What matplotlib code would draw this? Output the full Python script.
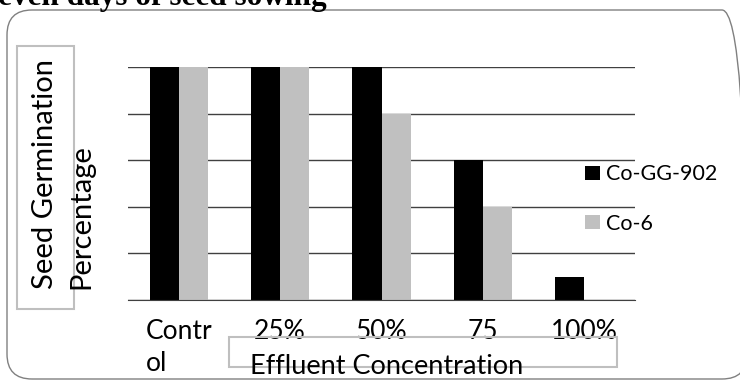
import matplotlib
matplotlib.use("Agg")
import matplotlib.pyplot as plt
from matplotlib.patches import FancyBboxPatch, Rectangle
from matplotlib.transforms import ScaledTranslation
import numpy as np

categories = ["Contr\nol", "25%", "50%", "75", "100%"]
series_names = ["Co-GG-902", "Co-6"]
co_gg_902 = [100, 100, 100, 60, 10]
co_6 = [100, 100, 80, 40, 0]
colors = ["#000000", "#C0C0C0"]

W, H = 740, 382
fig = plt.figure(figsize=(W / 100, H / 100), dpi=100)
FONT = "Lato"

ax = fig.add_axes([128 / W, (H - 300) / H, (635 - 128) / W, (300 - 67) / H])
x = np.arange(len(categories))
bw = 0.286
b1 = ax.bar(x - bw / 2, co_gg_902, width=bw, color=colors[0], label=series_names[0], zorder=2)
b2 = ax.bar(x + bw / 2, co_6, width=bw, color=colors[1], label=series_names[1], zorder=2)
ax.set_xlim(-0.5, 4.5)
ax.set_ylim(0, 100)
ax.set_yticks(np.arange(0, 101, 20))
ax.yaxis.grid(True, color="#404040", lw=1.0, zorder=0)
ax.set_yticklabels([])
ax.tick_params(axis="y", length=0)
for s in ["left", "right", "top"]:
    ax.spines[s].set_visible(False)
ax.spines["bottom"].set_color("#404040")
ax.set_xticks(x)
ax.set_xticklabels(categories, fontfamily=FONT, fontsize=19, linespacing=1.35)
label_shift_px = [0, 11, 12, 5, 3]
for t, dx in zip(ax.get_xticklabels(), label_shift_px):
    t.set_multialignment("left")
    t.set_transform(t.get_transform() + ScaledTranslation(dx / 100, 0, fig.dpi_scale_trans))
ax.tick_params(axis="x", length=0, pad=14)

leg = fig.legend(handles=[b1, b2], labels=series_names, loc="center left",
                 bbox_to_anchor=(570 / W, (H - 199) / H), frameon=False,
                 prop={"family": FONT, "size": 15.5}, handlelength=0.68, handleheight=0.68,
                 handletextpad=0.3, labelspacing=1.35, borderpad=0.2)

# outer rounded frame (pixel coords)
frame = FancyBboxPatch((7, 3), 740, 369, boxstyle="round,pad=0,rounding_size=25",
                       transform=None, fill=False, edgecolor="#808080", lw=1.0)
fig.patches.append(frame)

# y label box
fig.patches.append(Rectangle((17, H - 309), 57, 263, transform=None, fill=False,
                             edgecolor="#BFBFBF", lw=1.5))
fig.text(45 / W, (H - 289) / H, "Seed Germination", rotation=90, ha="center", va="bottom",
         fontfamily=FONT, fontsize=21)
fig.text(81 / W, (H - 289) / H, "Percentage", rotation=90, ha="center", va="bottom",
         fontfamily=FONT, fontsize=21)

# x label box
fig.patches.append(Rectangle((229, H - 367), 388, 30, transform=None, fill=False,
                             edgecolor="#BFBFBF", lw=1.5))
fig.text(250 / W, (H - 366) / H, "Effluent Concentration", ha="left", va="center",
         fontfamily=FONT, fontsize=19.5)

# clipped title
fig.text(-2 / W, 1 - 5 / H, "even days of seed sowing", ha="left", va="baseline",
         fontfamily="Liberation Serif", fontweight="bold", fontsize=22.5)

fig.savefig("out.png", dpi=100)
